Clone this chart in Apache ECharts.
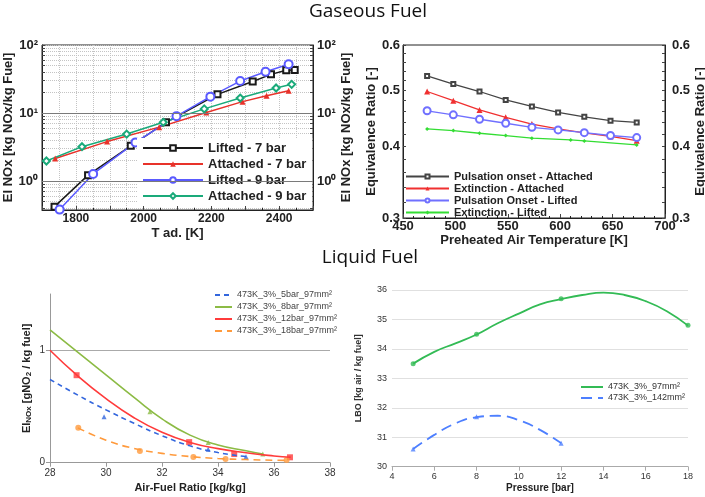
<!DOCTYPE html>
<html><head><meta charset="utf-8">
<script src="https://cdn.jsdelivr.net/npm/echarts@6/dist/echarts.min.js"></script>
<style>html,body{margin:0;padding:0;background:#fff}#c{width:705px;height:497px}</style>
</head><body><div id="c"></div>
<script>
// ---------- Panel 1: EI NOx vs T ad. ----------
const lifted7T   = [1737, 1836, 1962, 2066, 2218, 2322, 2376, 2421, 2446];
const lifted7    = [0.42, 1.22, 3.3, 7.3, 18.8, 29, 37, 42.5, 43];
const attached7T = [1739, 1892, 2046, 2185, 2292, 2363, 2428];
const attached7  = [2.15, 3.8, 6.2, 10.2, 14.7, 18, 21.3];
const lifted9T   = [1752, 1851, 1976, 2097, 2197, 2285, 2360, 2428];
const lifted9    = [0.38, 1.27, 3.7, 9.0, 17.4, 29.5, 40.5, 52];
const attached9T = [1713, 1818, 1950, 2058, 2179, 2285, 2391, 2437];
const attached9  = [1.97, 3.2, 4.9, 7.3, 11.5, 16.6, 23.3, 26.4];
const p1LogTicks = [0.4,0.5,0.6,0.7,0.8,0.9,1,2,3,4,5,6,7,8,9,10,20,30,40,50,60,70,80,90,100];
const p1LogLabels = [1, 10, 100];
const p1MajorLines = [1, 10];

// ---------- Panel 2: Equivalence ratio vs preheat temperature ----------
const tempK       = [473, 498, 523, 548, 573, 598, 623, 648, 673];
const pulsAttached = [0.530, 0.513, 0.498, 0.4815, 0.469, 0.458, 0.450, 0.443, 0.440];
const extAttached  = [0.498, 0.480, 0.4625, 0.449, 0.437, 0.4286, 0.422, 0.416, 0.409];
const pulsLifted   = [0.461, 0.4535, 0.4456, 0.4385, 0.4315, 0.427, 0.4223, 0.4175, 0.414];
const extLiftedT   = [473, 498, 523, 548, 573, 610, 623, 673];
const extLifted    = [0.4286, 0.4258, 0.4213, 0.4174, 0.4130, 0.4102, 0.4085, 0.4020];
const p2Labels = [0.3, 0.4, 0.5, 0.6];
const p2Ticks  = [0.3,0.32,0.34,0.36,0.38,0.4,0.42,0.44,0.46,0.48,0.5,0.52,0.54,0.56,0.58,0.6];

// ---------- Panel 3: EI NOx vs AFR (liquid) ----------
const c5x  = [28, 29, 30, 31, 32, 33, 34, 35];
const c5   = [0.74, 0.60, 0.47, 0.35, 0.24, 0.15, 0.09, 0.055];
const c8x  = [28, 29, 30, 31, 32, 33, 34, 35, 35.6];
const c8   = [1.18, 0.98, 0.78, 0.58, 0.39, 0.245, 0.157, 0.106, 0.077];
const c12x = [28, 29, 30, 31, 32, 33, 34, 35, 36, 36.6];
const c12  = [1.0, 0.77, 0.57, 0.40, 0.27, 0.18, 0.125, 0.088, 0.06, 0.048];
const c18x = [29, 30, 31, 32, 33, 34, 35, 36, 36.45];
const c18  = [0.31, 0.20, 0.127, 0.083, 0.055, 0.037, 0.028, 0.022, 0.02];
const m5x  = [29.93, 33.65, 35.0],               m5  = [0.408, 0.12, 0.053];
const m8x  = [31.57, 33.65, 35.6],               m8  = [0.453, 0.18, 0.077];
const m12x = [28.95, 32.97, 34.58, 36.57],       m12 = [0.778, 0.183, 0.077, 0.048];
const m18x = [29.01, 31.21, 33.12, 34.27, 36.45], m18 = [0.31, 0.104, 0.05, 0.033, 0.024];
const p3YLabels = [0, 1];

// ---------- Panel 4: LBO vs pressure ----------
const c97x  = [5, 6, 7, 8, 9, 10, 11, 12, 13, 14, 15, 16, 17, 18];
const c97   = [33.5, 33.9, 34.19, 34.49, 34.87, 35.2, 35.51, 35.69, 35.83, 35.91, 35.83, 35.62, 35.28, 34.79];
const c142x = [5, 6, 7, 8, 9, 10, 11, 12];
const c142  = [30.6, 31.08, 31.47, 31.68, 31.73, 31.58, 31.25, 30.8];
const m97x  = [5, 8, 12, 18],  m97  = [33.5, 34.5, 35.7, 34.8];
const m142x = [5, 8, 12],      m142 = [30.6, 31.7, 30.8];

const zip = (xs, ys) => xs.map((x, i) => [x, ys[i]]);
const FF = '"Liberation Sans", Arial, sans-serif';
const sup = ['\u2070', '\u00b9', '\u00b2'];

const chart = echarts.init(document.getElementById('c'), null, {renderer: 'canvas'});

const p1Y = (pos) => ({
  type: 'log', gridIndex: 0, position: pos, min: 0.375, max: 100, logBase: 10,
  axisLine: {show: true, lineStyle: {color: '#222'}},
  axisTick: {show: true, inside: true, length: 3, customValues: p1LogTicks, lineStyle: {color: '#444'}},
  axisLabel: {customValues: p1LogLabels, margin: 4, fontWeight: 'bold', fontSize: 13, color: '#222', fontFamily: FF,
    formatter: v => '10' + sup[Math.round(Math.log10(v))]},
  splitLine: {show: pos === 'left', lineStyle: {color: '#c4c4c4', type: 'dotted', width: 1}},
  name: 'EI NOx [kg NOx/kg Fuel]', nameLocation: 'middle', nameGap: pos === 'left' ? 23 : 22,
  nameTextStyle: {fontWeight: 'bold', fontSize: 13, color: '#222', fontFamily: FF}
});
const p2Y = (pos) => ({
  type: 'log', gridIndex: 1, position: pos, min: 0.3, max: 0.6, logBase: 10,
  axisLine: {show: true, lineStyle: {color: '#222'}},
  axisTick: {show: true, inside: true, length: 3, customValues: p2Ticks, lineStyle: {color: '#444'}},
  axisLabel: {customValues: p2Labels, margin: pos === 'left' ? 3 : 7, fontWeight: 'bold', fontSize: 13, color: '#222', fontFamily: FF,
    formatter: v => (Math.round(v * 10) / 10).toFixed(1)},
  splitLine: {show: false},
  name: 'Equivalence Ratio [-]', nameLocation: 'middle', nameGap: pos === 'left' ? 24 : 25,
  nameTextStyle: {fontWeight: 'bold', fontSize: 13, color: '#222', fontFamily: FF}
});

const option = {
  animation: false,
  backgroundColor: '#fff',
  graphic: [
    {type: 'text', x: 368, y: 2, style: {text: 'Gaseous Fuel', font: '19px "Open Sans", sans-serif', fill: '#111', textAlign: 'center', textVerticalAlign: 'top', verticalAlign: 'top'}},
    {type: 'text', x: 370, y: 248, style: {text: 'Liquid Fuel', font: '19px "Open Sans", sans-serif', fill: '#111', textAlign: 'center', textVerticalAlign: 'top', verticalAlign: 'top'}}
  ],
  grid: [
    {left: 42, top: 45, width: 271, height: 165, show: true, borderColor: '#222', borderWidth: 1, outerBoundsMode: 'none'},
    {left: 403, top: 45, width: 262, height: 173, show: true, borderColor: '#222', borderWidth: 1, outerBoundsMode: 'none'},
    {left: 50, top: 294, width: 280, height: 168.7, outerBoundsMode: 'none'},
    {left: 392, top: 290, width: 296, height: 176.7, outerBoundsMode: 'none'}
  ],
  legend: [
    {orient: 'vertical', left: 137, top: 138, itemWidth: 60, itemHeight: 7, itemGap: 2, padding: [3, 6, 3, 5],
     backgroundColor: '#fff', selectedMode: false,
     data: ['Lifted - 7 bar', 'Attached - 7 bar', 'Lifted - 9 bar', 'Attached - 9 bar'],
     textStyle: {fontWeight: 'bold', fontSize: 13, color: '#222', fontFamily: FF, lineHeight: 14}},
    {orient: 'vertical', left: 405, top: 171, itemWidth: 43, itemHeight: 5, itemGap: 1, padding: 0, selectedMode: false,
     data: ['Pulsation onset - Attached', 'Extinction - Attached', 'Pulsation Onset - Lifted', 'Extinction - Lifted'],
     textStyle: {fontWeight: 'bold', fontSize: 11, color: '#222', fontFamily: FF, lineHeight: 10}},
    {orient: 'vertical', left: 214, top: 290, itemWidth: 17, itemHeight: 8, itemGap: 2, padding: 0, selectedMode: false,
     itemStyle: {opacity: 0},
     data: ['473K_3%_5bar_97mm\u00b2', '473K_3%_8bar_97mm\u00b2', '473K_3%_12bar_97mm\u00b2', '473K_3%_18bar_97mm\u00b2'],
     textStyle: {fontSize: 9, color: '#444', fontFamily: FF, lineHeight: 10}},
    {orient: 'vertical', left: 580, top: 382, itemWidth: 22, itemHeight: 8, itemGap: 1, padding: 0, selectedMode: false,
     itemStyle: {opacity: 0},
     data: ['473K_3%_97mm\u00b2', '473K_3%_142mm\u00b2'],
     textStyle: {fontSize: 9, color: '#333', fontFamily: FF, lineHeight: 10}}
  ],
  xAxis: [
    {type: 'value', gridIndex: 0, min: 1700, max: 2500, interval: 100,
     axisLine: {show: true, lineStyle: {color: '#222'}},
     axisTick: {show: true, inside: true, length: 4, lineStyle: {color: '#444'}},
     minorTick: {show: true, splitNumber: 2, length: 2},
     axisLabel: {margin: 3, fontWeight: 'bold', fontSize: 12, color: '#222', fontFamily: FF,
       formatter: v => (v % 200 === 0 ? String(v) : '')},
     splitLine: {show: true, lineStyle: {color: '#c4c4c4', type: 'dotted'}},
     minorSplitLine: {show: true, lineStyle: {color: '#c4c4c4', type: 'dotted'}},
     name: 'T ad. [K]', nameLocation: 'middle', nameGap: 17,
     nameTextStyle: {fontWeight: 'bold', fontSize: 13, color: '#222', fontFamily: FF}},
    {type: 'value', gridIndex: 1, min: 450, max: 700, interval: 50,
     axisLine: {show: true, lineStyle: {color: '#222'}},
     axisTick: {show: true, inside: true, length: 4, lineStyle: {color: '#444'}},
     minorTick: {show: true, splitNumber: 5, length: 2},
     axisLabel: {margin: 2, fontWeight: 'bold', fontSize: 13, color: '#222', fontFamily: FF},
     splitLine: {show: false},
     name: 'Preheated Air Temperature [K]', nameLocation: 'middle', nameGap: 15,
     nameTextStyle: {fontWeight: 'bold', fontSize: 13, color: '#222', fontFamily: FF}},
    {type: 'value', gridIndex: 2, min: 28, max: 38, interval: 2,
     axisLine: {show: true, lineStyle: {color: '#999'}},
     axisTick: {show: true, length: 4, lineStyle: {color: '#999'}},
     axisLabel: {margin: 6, fontSize: 10, color: '#333', fontFamily: FF},
     splitLine: {show: false},
     name: 'Air-Fuel Ratio [kg/kg]', nameLocation: 'middle', nameGap: 20,
     nameTextStyle: {fontWeight: 'bold', fontSize: 11, color: '#222', fontFamily: FF}},
    {type: 'value', gridIndex: 3, min: 4, max: 18, interval: 2,
     axisLine: {show: true, lineStyle: {color: '#aaa'}},
     axisTick: {show: true, length: 4, lineStyle: {color: '#aaa'}},
     axisLabel: {margin: 5, fontSize: 9, color: '#333', fontFamily: FF},
     splitLine: {show: false},
     name: 'Pressure [bar]', nameLocation: 'middle', nameGap: 17,
     nameTextStyle: {fontWeight: 'bold', fontSize: 10, color: '#222', fontFamily: FF}}
  ],
  yAxis: [
    p1Y('left'), p1Y('right'), p2Y('left'), p2Y('right'),
    {type: 'value', gridIndex: 2, min: 0, max: 1.5,
     axisLine: {show: true, lineStyle: {color: '#999'}},
     axisTick: {show: true, length: 4, customValues: p3YLabels, lineStyle: {color: '#999'}},
     axisLabel: {customValues: p3YLabels, margin: 5, fontSize: 10, color: '#333', fontFamily: FF},
     splitLine: {show: true, lineStyle: {color: '#aaa', width: 1}},
     name: 'EI{sub|NOx} [gNO{sub|2} / kg fuel]', nameLocation: 'middle', nameGap: 17,
     nameTextStyle: {fontWeight: 'bold', fontSize: 11, color: '#222', fontFamily: FF,
       rich: {sub: {fontSize: 8, fontWeight: 'bold', color: '#222', fontFamily: FF, verticalAlign: 'bottom', padding: [5, 0, 0, 0]}}}},
    {type: 'value', gridIndex: 3, min: 30, max: 36, interval: 1,
     axisLine: {show: false}, axisTick: {show: false},
     axisLabel: {margin: 5, fontSize: 9, color: '#333', fontFamily: FF},
     splitLine: {show: true, lineStyle: {color: '#e0e0e0', width: 1}},
     name: 'LBO [kg air / kg fuel]', nameLocation: 'middle', nameGap: 29,
     nameTextStyle: {fontWeight: 'bold', fontSize: 9, color: '#333', fontFamily: FF}}
  ],
  series: [
    // Panel 1 major grid lines
    {name: 'p1grid', type: 'line', xAxisIndex: 0, yAxisIndex: 0, data: [], silent: true, z: 1,
     markLine: {silent: true, symbol: 'none', label: {show: false}, animation: false,
       lineStyle: {color: '#7a7a7a', type: 'solid', width: 1}, data: p1MajorLines.map(v => ({yAxis: v}))}},
    {name: 'Lifted - 7 bar', type: 'line', xAxisIndex: 0, yAxisIndex: 0, data: zip(lifted7T, lifted7),
     symbol: 'emptyRect', symbolSize: 6, lineStyle: {color: '#1a1a1a', width: 1.5}, itemStyle: {color: '#1a1a1a', borderWidth: 1.2}},
    {name: 'Attached - 7 bar', type: 'line', xAxisIndex: 0, yAxisIndex: 0, data: zip(attached7T, attached7),
     symbol: 'triangle', symbolSize: 6, lineStyle: {color: '#e8322a', width: 1.5}, itemStyle: {color: '#e8322a'}},
    {name: 'Lifted - 9 bar', type: 'line', xAxisIndex: 0, yAxisIndex: 0, data: zip(lifted9T, lifted9),
     symbol: 'emptyCircle', symbolSize: 8, lineStyle: {color: '#5a5aff', width: 1.5}, itemStyle: {color: '#5a5aff', borderWidth: 1.2}},
    {name: 'Attached - 9 bar', type: 'line', xAxisIndex: 0, yAxisIndex: 0, data: zip(attached9T, attached9),
     symbol: 'emptyDiamond', symbolSize: 7, lineStyle: {color: '#1aaa7a', width: 1.5}, itemStyle: {color: '#1aaa7a', borderWidth: 1.2}},
    // Panel 2
    {name: 'Pulsation onset - Attached', type: 'line', xAxisIndex: 1, yAxisIndex: 2, data: zip(tempK, pulsAttached),
     symbol: 'emptyRect', symbolSize: 4, lineStyle: {color: '#444', width: 1.3}, itemStyle: {color: '#444', borderWidth: 1}},
    {name: 'Extinction - Attached', type: 'line', xAxisIndex: 1, yAxisIndex: 2, data: zip(tempK, extAttached),
     symbol: 'triangle', symbolSize: 6, lineStyle: {color: '#f03030', width: 1.3}, itemStyle: {color: '#f03030'}},
    {name: 'Pulsation Onset - Lifted', type: 'line', xAxisIndex: 1, yAxisIndex: 2, data: zip(tempK, pulsLifted),
     symbol: 'emptyCircle', symbolSize: 7, lineStyle: {color: '#7070ff', width: 1.3}, itemStyle: {color: '#7070ff', borderWidth: 1.1}},
    {name: 'Extinction - Lifted', type: 'line', xAxisIndex: 1, yAxisIndex: 2, data: zip(extLiftedT, extLifted),
     symbol: 'diamond', symbolSize: 4, lineStyle: {color: '#33dd33', width: 1.3}, itemStyle: {color: '#33dd33'}},
    // Panel 3 trend lines
    {name: '473K_3%_5bar_97mm\u00b2', type: 'line', xAxisIndex: 2, yAxisIndex: 4, data: zip(c5x, c5), smooth: true,
     showSymbol: false, symbol: 'none', lineStyle: {color: '#3366dd', width: 1.6, type: [5, 4]}, itemStyle: {color: '#3366dd'}},
    {name: '473K_3%_8bar_97mm\u00b2', type: 'line', xAxisIndex: 2, yAxisIndex: 4, data: zip(c8x, c8), smooth: true,
     showSymbol: false, symbol: 'none', lineStyle: {color: '#8cbb45', width: 1.6}, itemStyle: {color: '#8cbb45'}},
    {name: '473K_3%_12bar_97mm\u00b2', type: 'line', xAxisIndex: 2, yAxisIndex: 4, data: zip(c12x, c12), smooth: true,
     showSymbol: false, symbol: 'none', lineStyle: {color: '#ff3b3b', width: 1.6}, itemStyle: {color: '#ff3b3b'}},
    {name: '473K_3%_18bar_97mm\u00b2', type: 'line', xAxisIndex: 2, yAxisIndex: 4, data: zip(c18x, c18), smooth: true,
     showSymbol: false, symbol: 'none', lineStyle: {color: '#ff9a3c', width: 1.6, type: [7, 5]}, itemStyle: {color: '#ff9a3c'}},
    // Panel 3 measured points
    {name: 'm5', type: 'scatter', xAxisIndex: 2, yAxisIndex: 4, data: zip(m5x, m5), symbol: 'triangle', symbolSize: 5, itemStyle: {color: '#3366dd'}},
    {name: 'm8', type: 'scatter', xAxisIndex: 2, yAxisIndex: 4, data: zip(m8x, m8), symbol: 'triangle', symbolSize: 5, itemStyle: {color: '#8cbb45'}},
    {name: 'm12', type: 'scatter', xAxisIndex: 2, yAxisIndex: 4, data: zip(m12x, m12), symbol: 'rect', symbolSize: 6, itemStyle: {color: '#ff3b3b'}},
    {name: 'm18', type: 'scatter', xAxisIndex: 2, yAxisIndex: 4, data: zip(m18x, m18), symbol: 'circle', symbolSize: 6, itemStyle: {color: '#ff9a3c'}},
    // Panel 4 trend lines
    {name: '473K_3%_97mm\u00b2', type: 'line', xAxisIndex: 3, yAxisIndex: 5, data: zip(c97x, c97), smooth: true,
     showSymbol: false, symbol: 'none', lineStyle: {color: '#33bb55', width: 1.8}, itemStyle: {color: '#33bb55'}},
    {name: '473K_3%_142mm\u00b2', type: 'line', xAxisIndex: 3, yAxisIndex: 5, data: zip(c142x, c142), smooth: true,
     showSymbol: false, symbol: 'none', lineStyle: {color: '#4d7fff', width: 1.8, type: [11, 6]}, itemStyle: {color: '#4d7fff'}},
    {name: 'm97', type: 'scatter', xAxisIndex: 3, yAxisIndex: 5, data: zip(m97x, m97), symbol: 'circle', symbolSize: 5, itemStyle: {color: '#33bb55'}},
    {name: 'm142', type: 'scatter', xAxisIndex: 3, yAxisIndex: 5, data: zip(m142x, m142), symbol: 'triangle', symbolSize: 5, itemStyle: {color: '#4d7fff'}}
  ]
};
chart.setOption(option);
</script>
</body></html>
